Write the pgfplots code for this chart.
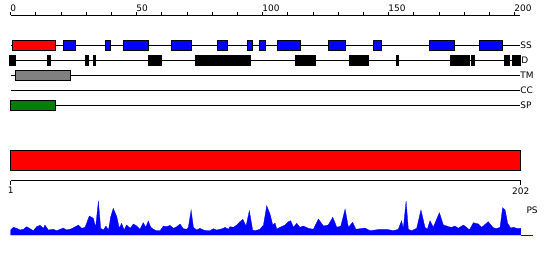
\documentclass[border=0pt]{standalone}
\usepackage{pgfplots}
\pgfplotsset{compat=1.18}
\usepackage{pgfplotstable}
\usepackage{fontspec}
\setmainfont{DejaVu Sans}
\definecolor{ssred}{RGB}{255,0,0}
\definecolor{ssblue}{RGB}{0,0,255}
\definecolor{tmgray}{RGB}{128,128,128}
\definecolor{spgreen}{RGB}{0,128,0}
% box: start, end, top y, bottom y, colour
\newcommand{\bx}[5]{\addplot[draw=black, fill=#5, line width=0.9bp] coordinates {(#1,#3) (#2,#3) (#2,#4) (#1,#4)} -- cycle;}
\pgfplotstableread{
r h
0.0 0
0.0 5.0
1.06 7.7
2.38 6.7
3.70 5.0
5.03 5.7
6.35 8.3
7.67 6.3
9.0 4.3
10.3 8.3
11.6 9.7
13.0 6.7
13.6 10.0
14.9 5.0
16.9 5.7
18.3 4.3
20.9 7.0
22.2 5.0
24.2 6.3
26.9 10.0
28.2 6.7
29.5 7.7
31.2 19.0
32.8 16.7
33.7 7.7
34.8 34.0
35.7 6.7
36.8 5.0
37.8 9.0
38.8 5.0
39.7 18.3
40.7 26.7
42.1 18.3
43.1 6.7
44.0 11.7
45.0 5.0
46.0 10.0
47.4 6.7
48.7 11.0
50.0 9.0
51.3 5.7
52.6 12.3
53.6 7.7
54.6 14.0
55.6 7.7
56.6 5.7
57.9 4.3
59.3 4.3
60.6 9.0
61.9 8.3
63.2 9.7
64.6 6.7
65.9 8.3
67.2 11.0
68.5 6.3
69.8 5.7
70.5 7.7
71.6 25.0
72.5 7.7
73.8 5.0
75.1 6.7
76.5 5.0
77.8 4.3
79.1 4.3
80.4 6.3
81.7 5.0
83.1 5.7
84.4 6.7
85.1 7.7
86.4 5.7
87.0 8.3
88.4 7.7
89.7 10.0
91.0 13.3
92.1 15.7
93.4 9.0
94.7 24.3
96.0 5.0
97.0 4.3
98.9 5.7
100.3 10.0
101.6 29.3
102.9 21.0
104.0 10.0
104.9 12.0
105.6 6.0
106.9 7.7
108.9 10.0
110.2 13.3
111.1 14.3
112.2 7.7
113.5 11.7
114.8 7.7
116.1 9.0
118.1 6.7
120.1 5.7
122.1 16.0
124.1 9.0
126.0 10.0
127.8 17.7
129.4 7.7
131.0 9.0
132.7 26.0
134.0 7.7
135.7 12.7
137.0 5.7
138.6 6.3
140.6 7.0
142.6 4.3
144.6 5.0
146.5 5.7
149.2 5.7
151.8 4.3
153.8 5.7
155.1 14.3
155.8 6.7
156.9 34.0
157.8 5.7
159.1 4.3
161.1 6.7
162.8 25.0
164.4 7.7
165.3 5.7
166.4 14.3
167.7 7.7
170.1 22.3
171.7 10.0
173.7 8.3
175.0 7.7
176.3 9.0
177.6 6.7
179.6 10.0
180.9 7.7
182.0 5.0
183.6 12.3
185.6 11.0
186.9 7.7
189.5 13.3
191.3 7.7
192.6 6.3
194.2 7.7
195.2 27.3
196.2 25.0
197.2 11.7
198.4 7.0
199.5 7.7
200.8 6.7
202.4 6.7
202.4 0
}\pstable
\begin{document}
\begin{tikzpicture}
\useasboundingbox (0,0) rectangle (550bp,260bp);
% main axis: x in residues, y in pixels from the top
\begin{axis}[
  at={(0,0)}, anchor=south west,
  scale only axis, width=550bp, height=260bp,
  xmin=-4.246, xmax=214.008, ymin=0, ymax=260, y dir=reverse,
  hide axis, clip=false,
]
% track lines
\addplot[black, line width=0.9bp] coordinates {(0,45) (202.1,45)};
\addplot[black, line width=0.9bp] coordinates {(-0.3,60) (202.1,60)};
\addplot[black, line width=0.9bp] coordinates {(0,75) (202.1,75)};
\addplot[black, line width=0.9bp] coordinates {(0,90) (202.1,90)};
\addplot[black, line width=0.9bp] coordinates {(0,105) (202.1,105)};
% SS
\bx{0.63}{17.9}{40}{50}{ssred}
\bx{20.9}{25.8}{40}{50}{ssblue}
\bx{37.5}{39.7}{40}{50}{ssblue}
\bx{44.7}{54.6}{40}{50}{ssblue}
\bx{63.7}{71.8}{40}{50}{ssblue}
\bx{82.0}{86.1}{40}{50}{ssblue}
\bx{93.9}{96.0}{40}{50}{ssblue}
\bx{98.7}{101.2}{40}{50}{ssblue}
\bx{105.8}{115.1}{40}{50}{ssblue}
\bx{126.0}{132.9}{40}{50}{ssblue}
\bx{143.9}{147.2}{40}{50}{ssblue}
\bx{166.1}{176.2}{40}{50}{ssblue}
\bx{186.0}{195.2}{40}{50}{ssblue}
% D
\bx{-0.3}{2.0}{55}{65.5}{black}
\bx{14.5}{15.9}{55}{65.5}{black}
\bx{29.6}{31.0}{55}{65.5}{black}
\bx{32.8}{33.8}{55}{65.5}{black}
\bx{54.5}{60.0}{55}{65.5}{black}
\bx{73.5}{84.1}{55}{65.5}{black}
\bx{84.6}{95.0}{55}{65.5}{black}
\bx{112.8}{121.0}{55}{65.5}{black}
\bx{134.6}{142.1}{55}{65.5}{black}
\bx{152.9}{154.0}{55}{65.5}{black}
\bx{174.7}{182.2}{55}{65.5}{black}
\bx{183.0}{184.1}{55}{65.5}{black}
\bx{195.8}{197.9}{55}{65.5}{black}
\bx{199.0}{202.4}{55}{65.5}{black}
% TM, SP
\bx{1.8}{23.7}{70}{80}{tmgray}
\bx{0}{17.9}{100}{110}{spgreen}
% red bar
\bx{0}{202.4}{150.7}{170.7}{ssred}
% PS profile
\addplot[fill=ssblue, draw=ssblue, line width=0.3bp] table[x=r, y expr={235-\thisrow{h}}] {\pstable} -- cycle;
\addplot[ssblue, line width=0.9bp] coordinates {(202.4,235) (207.3,235)};
% labels
\node[anchor=west, inner sep=0pt, font=\fontsize{9}{10}\selectfont] at (axis cs:202.2,45) {SS};
\node[anchor=west, inner sep=0pt, font=\fontsize{9}{10}\selectfont] at (axis cs:202.6,60) {D};
\node[anchor=west, inner sep=0pt, font=\fontsize{9}{10}\selectfont] at (axis cs:202.2,75) {TM};
\node[anchor=west, inner sep=0pt, font=\fontsize{9}{10}\selectfont] at (axis cs:202.2,90) {CC};
\node[anchor=west, inner sep=0pt, font=\fontsize{9}{10}\selectfont] at (axis cs:202.2,105) {SP};
\node[anchor=center, inner sep=0pt, font=\fontsize{9}{10}\selectfont] at (axis cs:206.9,210) {PS};
\end{axis}
% top ruler
\begin{axis}[
  at={(10.7bp,245bp)}, anchor=north west,
  scale only axis, width=509.04bp, height=10bp,
  xmin=0, xmax=202, ymin=0, ymax=1,
  axis x line=top, axis y line=none,
  axis line style={-, line width=0.9bp},
  xtick={0,10,...,200},
  xticklabels={0,,,,,50,,,,,100,,,,,150,,,,,200},
  tick align=outside, major tick length=3bp,
  tick style={black, line width=0.9bp},
  /pgf/number format/assume math mode=true,
  xticklabel style={anchor=south west, inner sep=0pt, xshift=-0.5bp, font=\fontsize{9}{10}\selectfont},
]
\end{axis}
% bottom ruler
\begin{axis}[
  at={(10.7bp,79.3bp)}, anchor=south west,
  scale only axis, width=510bp, height=10bp,
  xmin=1, xmax=202, ymin=0, ymax=1,
  axis x line=bottom, axis y line=none,
  axis line style={-, line width=0.9bp},
  xtick={1,202}, xticklabels={1,202},
  tick align=outside, major tick length=4.5bp,
  tick style={black, line width=0.9bp},
  /pgf/number format/assume math mode=true,
  xticklabel style={inner sep=0pt, yshift=-2bp, font=\fontsize{9}{10}\selectfont},
]
\end{axis}
\end{tikzpicture}
\end{document}
